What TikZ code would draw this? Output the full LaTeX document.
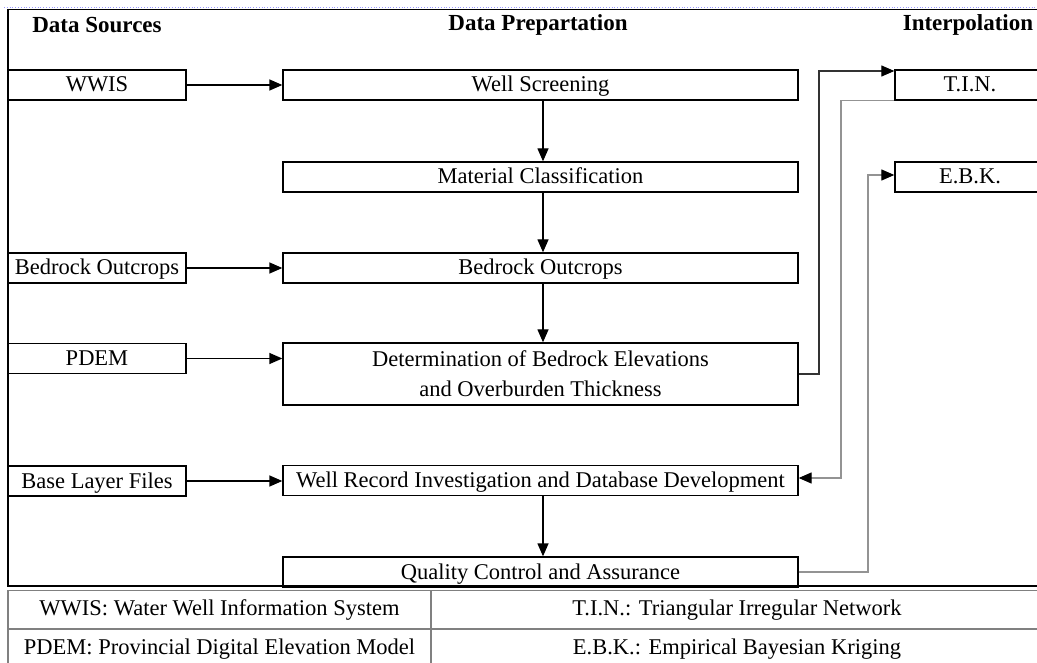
\documentclass[tikz,border=0pt]{standalone}
\usepackage{fontspec}
\setmainfont{Liberation Serif}
\usetikzlibrary{arrows.meta}
\begin{document}
\begin{tikzpicture}[x=1pt,y=-1pt,
  box/.style={draw=black,line width=1.3pt,inner sep=0pt,font=\fontsize{22.5}{30}\selectfont},
  oneline/.style={text height=17pt,text depth=3pt},
  src/.style={box,oneline,minimum width=178pt,minimum height=30pt},
  mid/.style={box,minimum width=515pt,minimum height=30pt},
  midone/.style={mid,oneline},
  intp/.style={box,oneline,minimum width=150pt,minimum height=30pt},
  hdr/.style={font=\fontsize{23}{26}\selectfont\bfseries,inner sep=0pt},
  arr/.style={line width=1.3pt,-{Triangle[length=13pt,width=11pt]}},
  barr/.style={line width=1.1pt,draw=black!80,-{Triangle[length=13pt,width=11pt,color=black]}},
  garr/.style={line width=1.2pt,draw=gray!85,-{Triangle[length=13pt,width=11pt,color=black]}},
  tab/.style={font=\fontsize{22.5}{26}\selectfont,inner sep=0pt,text height=16pt,text depth=3pt}]
\useasboundingbox (0,0) rectangle (1037,663);
\clip (0,0) rectangle (1037,663);
% frame
\draw[blue!40,dotted,line width=0.8pt] (4,7) -- (1037,7);
\draw[line width=0.8pt] (8,9) -- (1037,9);
\draw[line width=1.3pt] (8,9) -- (8,587);
% headers
\node[hdr] (h1) at (97,25) {Data Sources};
\node[hdr] (h2) at (538,25) {Data Prepartation};
\node[hdr] (h3) at (968,25) {Interpolation};
% sources
\node[src] (wwis) at (97,85) {WWIS};
\node[src] (bos) at (97,268) {Bedrock Outcrops};
\node[src] (pdem) at (97,358.5) {PDEM};
\node[src] (blf) at (97,481) {Base Layer Files};
% preparation
\node[midone] (ws) at (540.5,85) {Well Screening};
\node[midone] (mc) at (540.5,177) {Material Classification};
\node[midone] (bo) at (540.5,268) {Bedrock Outcrops};
\node[mid,minimum height=62pt,align=center] (det) at (540.5,374) {Determination of Bedrock Elevations\\and Overburden Thickness};
\node[midone] (wr) at (540.5,480.5) {Well Record Investigation and Database Development};
\node[midone] (qc) at (540.5,572) {Quality Control and Assurance};
% interpolation
\node[intp] (tin) at (970,85) {T.I.N.};
\node[intp] (ebk) at (970,177) {E.B.K.};
% arrows
\draw[arr] (wwis) -- (ws);
\draw[arr] (bos) -- (bo);
\draw[arr] (pdem) -- (pdem -| det.west);
\draw[arr] (blf) -- (blf -| wr.west);
\draw[arr] ([xshift=2.5pt]ws.south) -- ([xshift=2.5pt]mc.north);
\draw[arr] ([xshift=2.5pt]mc.south) -- ([xshift=2.5pt]bo.north);
\draw[arr] ([xshift=2.5pt]bo.south) -- ([xshift=2.5pt]det.north);
\draw[arr] ([xshift=2.5pt]wr.south) -- ([xshift=2.5pt]qc.north);
\coordinate (c1) at (819,71);
\draw[barr] (det.east) -| (c1) -- (c1 -| tin.west);
\coordinate (c2) at (841,478);
\draw[garr] (tin.south west) -| (c2) -- (c2 -| wr.east);
\coordinate (c3) at (868,175);
\draw[garr] (qc.east) -| (c3) -- (c3 -| ebk.west);
% bottom legend table
\draw[line width=2pt] (8,586) -- (1037,586);
\draw[gray,line width=1pt] (8,590) -- (1037,590);
\draw[gray,line width=1.2pt] (8,590) -- (8,663);
\draw[gray,line width=1.2pt] (431,590) -- (431,663);
\draw[gray,line width=1.2pt] (8,629) -- (1037,629);
\node[tab] (t1) at (219.5,609) {WWIS: Water Well Information System};
\node[tab] (t2) at (219.5,648) {PDEM: Provincial Digital Elevation Model};
\node[tab] (t3) at (737,609) {T.I.N.: Triangular Irregular Network};
\node[tab] (t4) at (737,648) {E.B.K.: Empirical Bayesian Kriging};
\end{tikzpicture}
\end{document}
